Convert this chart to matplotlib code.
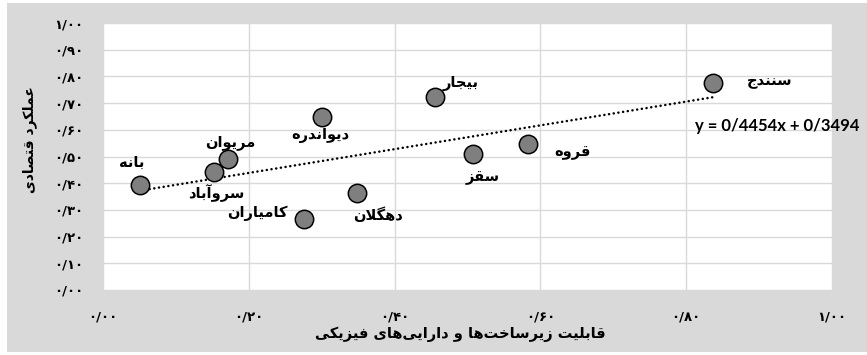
import numpy as np
import matplotlib
matplotlib.use('Agg')
import matplotlib.pyplot as plt
from matplotlib.patches import Rectangle

# data
cities = ['بانه', 'سروآباد', 'مریوان', 'دیواندره', 'بیجار',
          'سقز', 'قروه', 'سنندج', 'دهگلان', 'کامیاران']
infra = [0.051, 0.152, 0.171, 0.300, 0.455, 0.508, 0.583, 0.837, 0.348, 0.276]
econ = [0.393, 0.442, 0.491, 0.648, 0.723, 0.509, 0.547, 0.775, 0.363, 0.266]
trend_slope = 0.4454
trend_icpt = 0.3494
ticks = [0.0, 0.2, 0.4, 0.6, 0.8, 1.0]
yticks = [0.0, 0.1, 0.2, 0.3, 0.4, 0.5, 0.6, 0.7, 0.8, 0.9, 1.0]
xlabel = 'قابلیت زیرساخت‌ها و دارایی‌های فیزیکی'
ylabel = 'عملکرد قتصادی'

# label offsets from each point (points)
offsets = [(-6, 16), (2, -15), (2, 12), (-1, -13), (19, 10),
           (7, -17), (32, -6), (41, 1), (15, -16), (-34, 4)]

# matplotlib has no arabic shaping, so pick presentation forms by hand
# (isolated, final, initial, medial)
FORMS = {
    'ا': ('\uFE8D', '\uFE8E', None, None),
    'آ': ('\uFE81', '\uFE82', None, None),
    'د': ('\uFEA9', '\uFEAA', None, None),
    'ر': ('\uFEAD', '\uFEAE', None, None),
    'ز': ('\uFEAF', '\uFEB0', None, None),
    'و': ('\uFEED', '\uFEEE', None, None),
    'ب': ('\uFE8F', '\uFE90', '\uFE91', '\uFE92'),
    'ت': ('\uFE95', '\uFE96', '\uFE97', '\uFE98'),
    'ج': ('\uFE9D', '\uFE9E', '\uFE9F', '\uFEA0'),
    'خ': ('\uFEA5', '\uFEA6', '\uFEA7', '\uFEA8'),
    'س': ('\uFEB1', '\uFEB2', '\uFEB3', '\uFEB4'),
    'ص': ('\uFEB9', '\uFEBA', '\uFEBB', '\uFEBC'),
    'ع': ('\uFEC9', '\uFECA', '\uFECB', '\uFECC'),
    'ف': ('\uFED1', '\uFED2', '\uFED3', '\uFED4'),
    'ق': ('\uFED5', '\uFED6', '\uFED7', '\uFED8'),
    'ل': ('\uFEDD', '\uFEDE', '\uFEDF', '\uFEE0'),
    'م': ('\uFEE1', '\uFEE2', '\uFEE3', '\uFEE4'),
    'ن': ('\uFEE5', '\uFEE6', '\uFEE7', '\uFEE8'),
    'ه': ('\uFEE9', '\uFEEA', '\uFEEB', '\uFEEC'),
    'ک': ('\uFB8E', '\uFB8F', '\uFB90', '\uFB91'),
    'گ': ('\uFB92', '\uFB93', '\uFB94', '\uFB95'),
    'ی': ('\uFBFC', '\uFBFD', '\uFBFE', '\uFBFF'),
}


def dual(c):
    return c in FORMS and FORMS[c][2] is not None


def shape(text):
    out = []
    for i, c in enumerate(text):
        if c not in FORMS:
            out.append(c)
            continue
        prev = text[i - 1] if i > 0 else ''
        nxt = text[i + 1] if i + 1 < len(text) else ''
        p = dual(prev)
        q = dual(c) and nxt in FORMS
        iso, fin, ini, med = FORMS[c]
        if p and q:
            out.append(med)
        elif p:
            out.append(fin)
        elif q:
            out.append(ini)
        else:
            out.append(iso)
    s = ''.join(out)
    s = s.replace('\uFEDF\uFE8E', '\uFEFB').replace('\uFEE0\uFE8E', '\uFEFC')
    s = s.replace('\u200c', '')
    return s[::-1]


FA = str.maketrans('0123456789', '۰۱۲۳۴۵۶۷۸۹')


def fa_num(v):
    return ('%.2f' % v).replace('.', '/').translate(FA)


plt.rcParams['font.family'] = ['DejaVu Sans']

fig = plt.figure(figsize=(8.67, 3.55), dpi=100)
fig.patch.set_facecolor('white')
fig.patches.append(Rectangle((7 / 867, 3 / 355), 1, 349 / 355,
                             transform=fig.transFigure, facecolor='#d9d9d9',
                             edgecolor='none', zorder=-10))

ax = fig.add_axes([103 / 867, 65 / 355, 729 / 867, 267 / 355])
ax.set_facecolor('white')
ax.set_xlim(0, 1)
ax.set_ylim(0, 1)
ax.set_xticks(ticks)
ax.set_yticks(yticks)
ax.set_xticklabels([fa_num(v) for v in ticks], fontsize=9.5, fontweight='bold')
ax.set_yticklabels([fa_num(v) for v in yticks], fontsize=9.5, fontweight='bold')
ax.tick_params(length=0)
ax.tick_params(axis='x', pad=15)
ax.tick_params(axis='y', pad=14)
ax.grid(True, color='#d9d9d9', lw=1)
ax.set_axisbelow(True)
for s in ax.spines.values():
    s.set_visible(False)

# trend line
xt = np.array([min(infra), max(infra)])
ax.plot(xt, trend_slope * xt + trend_icpt, color='black', lw=1.8,
        linestyle=(0, (0.05, 1.85)), dash_capstyle='round', zorder=2)

ax.scatter(infra, econ, s=175, facecolor='#7f7f7f', edgecolor='black',
           linewidth=1.1, zorder=3)

for name, x, y, off in zip(cities, infra, econ, offsets):
    ax.annotate(shape(name), (x, y), xytext=off, textcoords='offset points',
                ha='center', va='center', fontsize=10.5, fontweight='bold',
                zorder=4)

ax.text(695 / 867, 1 - 126 / 355, 'y = 0/4454x + 0/3494',
        transform=fig.transFigure, ha='left', va='center', fontsize=12,
        fontweight='bold', family='Lato', zorder=5)

fig.text(460 / 867, 1 - 334 / 355, shape(xlabel), ha='center', va='center',
         fontsize=10.5, fontweight='bold')
fig.text(30 / 867, 1 - 140 / 355, shape(ylabel), ha='center', va='center',
         rotation=90, fontsize=10, fontweight='bold')

fig.savefig('out.png', dpi=100, facecolor=fig.get_facecolor())
